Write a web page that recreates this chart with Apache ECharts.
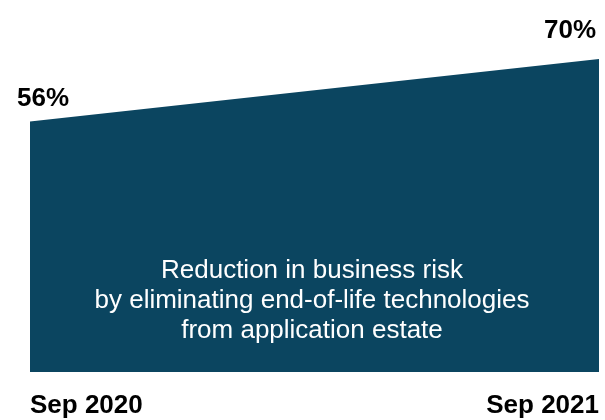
<!DOCTYPE html>
<html>
<head>
<meta charset="utf-8">
<script src="https://cdn.jsdelivr.net/npm/echarts@6/dist/echarts.min.js"></script>
<style>html,body{margin:0;padding:0;background:#fff;}#c{width:605px;height:420px;}</style>
</head>
<body>
<div id="c"></div>
<script>
var categories = ['Sep 2020', 'Sep 2021'];
var values = [56, 70];
var caption = ['Reduction in business risk', 'by eliminating end-of-life technologies', 'from application estate'];

var chart = echarts.init(document.getElementById('c'), null, {renderer: 'canvas'});
var fill = '#0b4560';
var ff = '"Liberation Sans", Arial, sans-serif';
chart.setOption({
  animation: false,
  grid: {left: 30, right: 6, top: 59, bottom: 48},
  xAxis: {
    type: 'category',
    boundaryGap: false,
    data: [
      {value: categories[0], textStyle: {align: 'left'}},
      {value: categories[1], textStyle: {align: 'right'}}
    ],
    axisLine: {show: false},
    axisTick: {show: false},
    axisLabel: {
      margin: 21,
      fontFamily: ff,
      fontWeight: 'bold',
      fontSize: 26,
      color: '#000'
    }
  },
  yAxis: {
    type: 'value', min: 0, max: 70,
    show: false, splitLine: {show: false}
  },
  series: [{
    type: 'line',
    data: [
      {value: values[0], label: {offset: [13, -5]}},
      {value: values[1], label: {offset: [-29, -10]}}
    ],
    showSymbol: true,
    symbol: 'circle',
    symbolSize: 0,
    lineStyle: {width: 0, color: fill},
    itemStyle: {color: fill},
    areaStyle: {color: fill, opacity: 1},
    label: {
      show: true,
      position: 'top',
      formatter: function (p) { return p.value + '%'; },
      fontFamily: ff,
      fontWeight: 'bold',
      fontSize: 26,
      color: '#000'
    }
  }],
  graphic: [{
    type: 'text',
    x: 312,
    y: 256,
    z: 100,
    style: {
      text: caption.join('\n'),
      textAlign: 'center',
      textVerticalAlign: 'top',
      fill: '#fff',
      font: '26px ' + ff,
      lineHeight: 30
    }
  }]
});
</script>
</body>
</html>
